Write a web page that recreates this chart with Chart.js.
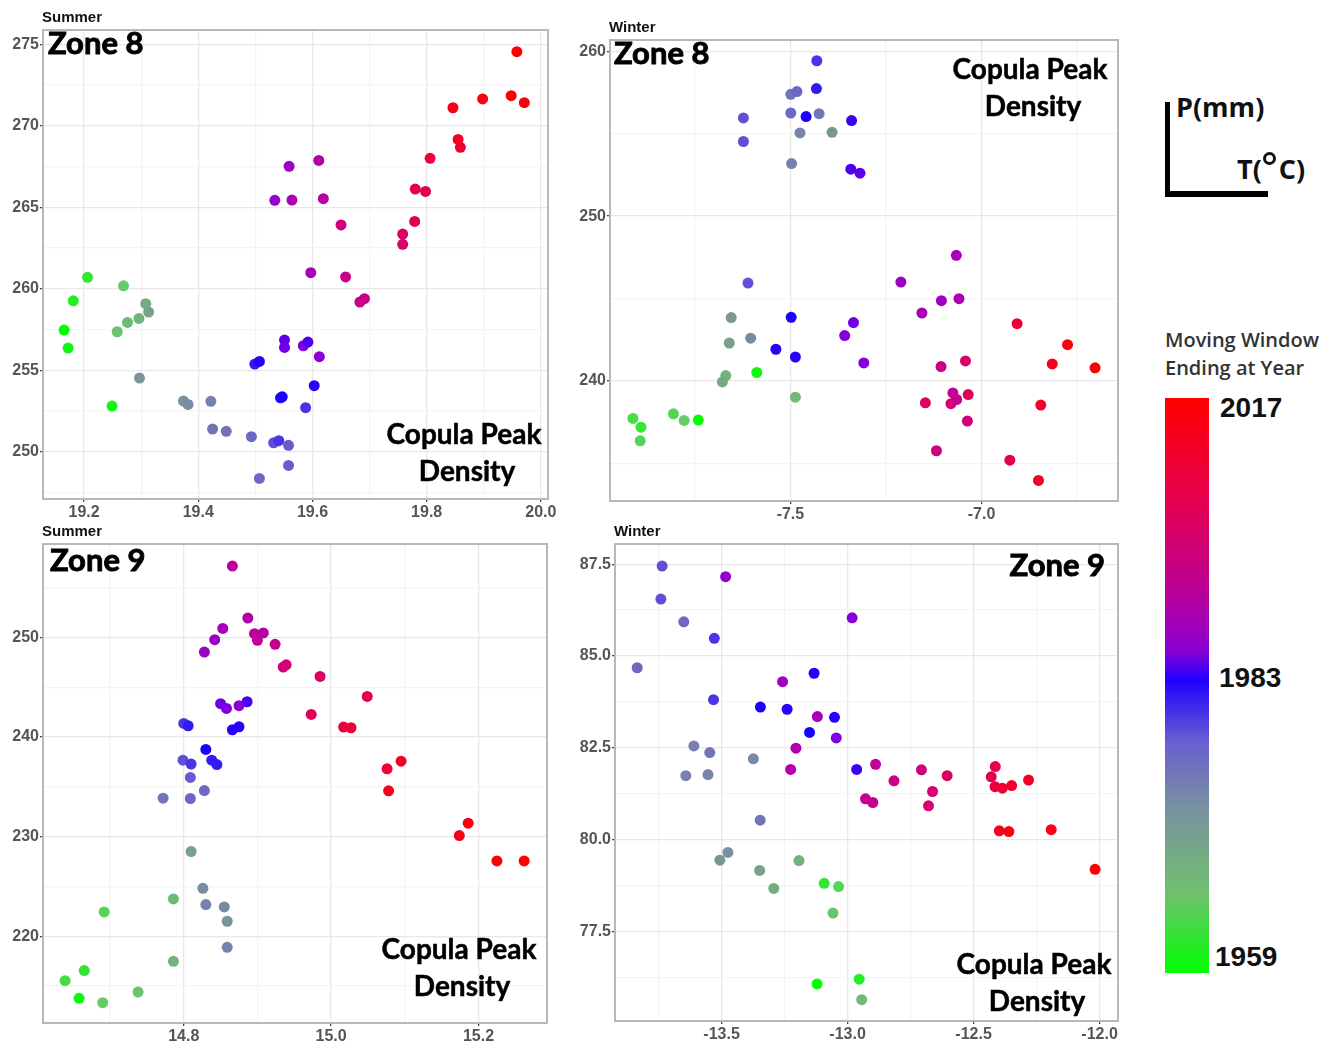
<!DOCTYPE html>
<html lang="en">
<head>
<meta charset="UTF-8">
<title>Copula Peak Density - Zones 8 and 9</title>
<script src="https://cdn.jsdelivr.net/npm/chart.js"></script>
<style>
  body { margin: 0; background: #fff; width: 1339px; height: 1043px; position: relative; overflow: hidden; font-family: "Liberation Sans", Arial, sans-serif; }
  canvas.panel { position: absolute; }
  .axis-v { position: absolute; left: 1165px; top: 102px; width: 5px; height: 95px; background: #000; }
  .axis-h { position: absolute; left: 1165px; top: 191px; width: 103px; height: 6px; background: #000; }
  .lbl { position: absolute; white-space: nowrap; color: #111; font-weight: bold; }
  .key { font-family: "Open Sans"; font-weight: 700; font-size: 27px; color: #111; }
  .bar { position: absolute; left: 1165px; top: 398px; width: 44px; height: 575px;
         background: linear-gradient(to top, #00ff00 0%, #70c070 14%, #7890a0 29%, #6a60d0 40%, #2000ff 51%,
                     #8800d0 56%, #a800b0 62%, #c80080 71%, #e80048 84%, #ff0000 100%); }
</style>
</head>
<body>
<canvas id="c1" class="panel" width="560" height="525" style="left:0;top:0"></canvas>
<canvas id="c2" class="panel" width="560" height="515" style="left:565px;top:10px"></canvas>
<canvas id="c3" class="panel" width="560" height="528" style="left:0;top:515px"></canvas>
<canvas id="c4" class="panel" width="570" height="528" style="left:560px;top:515px"></canvas>

<!-- axis key + colour bar -->
<div class="axis-v"></div>
<div class="axis-h"></div>
<div class="lbl key" style="left:1176px;top:88px;">P(mm)</div>
<div class="lbl key" style="left:1237px;top:150px;">T(<span style="display:inline-block;width:7px;height:7px;border:3px solid #111;border-radius:50%;position:relative;top:-14px;margin:0 3px 0 1px;"></span>C)</div>
<div class="lbl" style="left:1165px;top:326px;font-family:'Open Sans';font-weight:600;font-size:20px;color:#333;line-height:28px;">Moving Window<br>Ending at Year</div>
<div class="bar"></div>
<div class="lbl" style="left:1220px;top:392px;font-size:28px;">2017</div>
<div class="lbl" style="left:1219px;top:662px;font-size:28px;">1983</div>
<div class="lbl" style="left:1215px;top:941px;font-size:28px;">1959</div>

<script>
// ---- data: T (x), P (y) and moving-window end year for each point ----
const summer8T = [19.958, 19.948, 19.971, 19.898, 19.846, 19.855, 19.859, 19.806, 19.780, 19.798, 19.779, 19.758, 19.758,
  19.650, 19.658, 19.683, 19.691, 19.597, 19.611, 19.559, 19.534, 19.564, 19.619, 19.551, 19.551, 19.584, 19.592, 19.612,
  19.499, 19.507, 19.603, 19.544, 19.547, 19.588, 19.422, 19.425, 19.449, 19.493, 19.532, 19.541, 19.558, 19.558, 19.507,
  19.374, 19.382, 19.297, 19.308, 19.313, 19.296, 19.276, 19.258, 19.269, 19.206, 19.181, 19.165, 19.172, 19.249];
const summer8P = [274.55, 271.85, 271.42, 271.65, 271.11, 269.17, 268.68, 268.01, 266.12, 265.98, 264.14, 263.36, 262.73,
  263.92, 260.73, 259.19, 259.40, 260.99, 267.88, 267.52, 265.43, 265.45, 265.53, 256.86, 256.41, 256.51, 256.74, 255.84,
  255.39, 255.55, 254.06, 253.32, 253.38, 252.71, 253.10, 251.40, 251.26, 250.93, 250.56, 250.69, 250.40, 249.17, 248.37,
  253.12, 252.91, 254.53, 259.09, 258.58, 258.19, 257.94, 257.37, 260.19, 260.71, 259.27, 257.47, 256.37, 252.81];
const summer8Year = [2017, 2016, 2015, 2014, 2013, 2012, 2011, 2010, 2009, 2008, 2007, 2006, 2005,
  2003, 2002, 2001, 2002, 1995, 1997, 1993, 1992, 1996, 1998, 1987, 1988, 1989, 1986, 1991,
  1982, 1984, 1984, 1983, 1983, 1981, 1976, 1977, 1977, 1978, 1980, 1981, 1979, 1979, 1978,
  1973, 1974, 1972, 1969, 1970, 1968, 1967, 1966, 1965, 1962, 1961, 1959, 1960, 1960];

const winter8T = [-7.431, -7.432, -7.499, -7.483, -7.499, -7.459, -7.425, -7.623, -7.623, -7.475, -7.391, -7.497,
  -7.340, -7.342, -7.318, -7.066, -7.211, -7.105, -7.059, -7.156, -7.611, -7.655, -7.660, -7.604, -7.498, -7.538, -7.487,
  -7.335, -7.358, -7.308, -7.588, -7.669, -7.678, -7.487, -7.912, -7.891, -7.893, -7.806, -7.778, -7.741,
  -7.106, -7.042, -7.075, -7.080, -7.065, -7.147, -7.035, -7.037, -7.118,
  -6.907, -6.775, -6.815, -6.703, -6.845, -6.926, -6.851];
const winter8P = [259.43, 257.74, 257.39, 257.56, 256.26, 256.04, 256.22, 255.96, 254.53, 255.05, 255.09, 253.19,
  255.80, 252.85, 252.61, 247.62, 246.00, 244.87, 244.99, 244.12, 245.94, 243.84, 242.30, 242.59, 243.86, 241.92, 241.45,
  243.54, 242.75, 241.09, 240.51, 240.32, 239.94, 239.01, 237.72, 237.19, 236.36, 238.00, 237.60, 237.62,
  240.87, 241.21, 239.27, 238.62, 238.87, 238.67, 239.17, 237.56, 235.76,
  243.47, 242.20, 241.03, 240.79, 238.53, 235.19, 233.96];
const winter8Year = [1981, 1982, 1977, 1978, 1978, 1983, 1977, 1980, 1980, 1975, 1972, 1976,
  1985, 1986, 1987, 1995, 1993, 1994, 1996, 1995, 1980, 1971, 1970, 1974, 1983, 1984, 1984,
  1988, 1989, 1990, 1960, 1968, 1969, 1967, 1963, 1962, 1964, 1964, 1965, 1959,
  2002, 2005, 2000, 2004, 2001, 2006, 2007, 2003, 2003,
  2010, 2015, 2013, 2016, 2011, 2009, 2012];

const summer9T = [14.866, 14.887, 14.853, 14.842, 14.828, 14.896, 14.908, 14.900, 14.924, 14.935, 14.939, 14.985,
  14.973, 15.049, 15.017, 15.027, 15.076, 15.095, 15.078, 15.174, 15.186, 15.225, 15.262,
  14.850, 14.858, 14.875, 14.886, 14.866, 14.875, 14.800, 14.806, 14.830, 14.799, 14.810, 14.838, 14.845,
  14.809, 14.828, 14.772, 14.809, 14.810, 14.826, 14.786, 14.830, 14.855, 14.859, 14.859, 14.786,
  14.692, 14.665, 14.639, 14.658, 14.690, 14.738];
const summer9P = [257.16, 251.94, 250.90, 249.77, 248.53, 250.37, 250.44, 249.70, 249.30, 247.02, 247.25, 246.08,
  242.27, 244.07, 241.00, 240.93, 236.81, 237.58, 234.60, 230.11, 231.35, 227.57, 227.57,
  243.34, 242.87, 243.14, 243.54, 240.73, 241.03, 241.36, 241.13, 238.75, 237.68, 237.28, 237.68, 237.24,
  235.94, 234.63, 233.86, 233.83, 228.51, 224.82, 223.75, 223.18, 222.95, 221.51, 218.90, 217.49,
  222.45, 216.56, 215.55, 213.78, 213.34, 214.41];
const summer9Year = [1999, 1997, 1995, 1993, 1993, 1999, 1998, 2000, 2001, 2003, 2004, 2006,
  2007, 2008, 2009, 2010, 2011, 2012, 2013, 2014, 2015, 2016, 2017,
  1988, 1989, 1991, 1986, 1984, 1984, 1981, 1982, 1983, 1980, 1981, 1982, 1982,
  1979, 1978, 1977, 1978, 1970, 1974, 1967, 1976, 1974, 1972, 1976, 1968,
  1964, 1962, 1963, 1960, 1965, 1966];

const winter9T = [-13.736, -13.741, -13.650, -13.529, -13.835, -13.484, -12.982, -13.133, -13.258, -13.532, -13.346,
  -13.240, -13.120, -13.052, -13.151, -13.045, -13.205, -13.226, -13.610, -13.547, -13.374, -13.642, -13.554, -12.964,
  -12.889, -12.929, -12.900, -12.816, -12.707, -12.663, -12.679, -12.605, -12.414, -12.430, -12.415, -12.386, -12.349,
  -12.282, -12.398, -12.360, -12.192, -12.018, -13.347, -13.507, -13.475, -13.349, -13.293, -13.193, -13.093, -13.036,
  -13.058, -13.121, -12.954, -12.944];
const winter9P = [87.45, 86.55, 85.93, 85.48, 84.68, 87.16, 86.04, 84.53, 84.30, 83.81, 83.61,
  83.55, 83.35, 83.33, 82.92, 82.77, 82.49, 81.91, 82.55, 82.37, 82.20, 81.74, 81.77, 81.91,
  82.05, 81.11, 81.01, 81.60, 81.90, 81.31, 80.92, 81.74, 81.99, 81.71, 81.44, 81.40, 81.47,
  81.62, 80.24, 80.22, 80.27, 79.19, 80.53, 79.44, 79.65, 79.16, 78.67, 79.43, 78.81, 78.72,
  78.00, 76.07, 76.20, 75.64];
const winter9Year = [1980, 1980, 1978, 1981, 1978, 1992, 1990, 1984, 1994, 1981, 1983,
  1984, 1995, 1984, 1983, 1989, 1996, 1997, 1976, 1977, 1974, 1976, 1975, 1985,
  2000, 2001, 2001, 2002, 2003, 2004, 2005, 2006, 2009, 2008, 2010, 2011, 2011,
  2012, 2013, 2014, 2015, 2017, 1977, 1972, 1973, 1970, 1969, 1968, 1962, 1964,
  1966, 1959, 1961, 1967];

// colour scale for the window end year
const scaleYears = [1959, 1965, 1971, 1976, 1980, 1983, 1989, 1995, 2001, 2007, 2012, 2017];
const scaleColors = ['#00ff00', '#66cc66', '#7a9a90', '#7880b0', '#6050d8', '#1a00ff',
  '#8000e0', '#a800b8', '#c80090', '#e00058', '#f50025', '#ff0000'];

function hexRgb(h) {
  return [parseInt(h.slice(1, 3), 16), parseInt(h.slice(3, 5), 16), parseInt(h.slice(5, 7), 16)];
}
function yearColor(yr) {
  let i = 0;
  while (i < scaleYears.length - 2 && yr > scaleYears[i + 1]) i++;
  const t = Math.min(1, Math.max(0, (yr - scaleYears[i]) / (scaleYears[i + 1] - scaleYears[i])));
  const a = hexRgb(scaleColors[i]), b = hexRgb(scaleColors[i + 1]);
  const c = a.map((v, k) => Math.round(v + (b[k] - v) * t));
  return `rgb(${c[0]},${c[1]},${c[2]})`;
}

function isMajor(v, major) {
  const r = v / major;
  return Math.abs(r - Math.round(r)) < 1e-6;
}

function axis(min, max, major, digits, size) {
  return {
    type: 'linear',
    min: min,
    max: max,
    afterFit: s => { if (s.isHorizontal()) s.height = size; else s.width = size; },
    ticks: {
      stepSize: major / 2,
      includeBounds: false,
      maxTicksLimit: 60,
      autoSkip: false,
      maxRotation: 0,
      padding: 1,
      color: '#555',
      font: { family: 'Liberation Sans', size: 16, weight: 'bold' },
      callback: v => isMajor(v, major) ? v.toFixed(digits) : ''
    },
    grid: {
      color: c => isMajor(c.tick.value, major) ? '#e8e8e8' : '#f4f4f4',
      lineWidth: 1.3,
      drawTicks: true,
      tickLength: 3,
      tickColor: c => isMajor(c.tick.value, major) ? '#444' : 'rgba(0,0,0,0)'
    },
    border: { display: false }
  };
}

// panel frame and in-plot labels
const panelText = {
  id: 'panelText',
  afterDraw(chart, args, o) {
    const { ctx, chartArea: a } = chart;
    ctx.save();
    ctx.strokeStyle = '#b8b8b8';
    ctx.lineWidth = 2;
    ctx.strokeRect(a.left, a.top, a.right - a.left, a.bottom - a.top);

    ctx.fillStyle = '#111';
    ctx.font = 'bold 15px "Liberation Sans"';
    ctx.textAlign = 'left';
    ctx.textBaseline = 'bottom';
    ctx.fillText(o.season, a.left - 1, a.top - 5);

    ctx.fillStyle = '#000';
    ctx.strokeStyle = '#000';
    ctx.lineWidth = 0.9;
    ctx.textBaseline = 'middle';
    ctx.font = 'bold 31px Lato';
    let zx = a.left + o.zoneX;
    ctx.textAlign = 'left';
    if (o.zoneAlign === 'right') {
      ctx.textAlign = 'right';
      zx = a.right - o.zoneX;
    }
    ctx.fillText(o.zone, zx, a.top + o.zoneY);
    ctx.strokeText(o.zone, zx, a.top + o.zoneY);

    ctx.textAlign = 'center';
    ctx.font = 'bold 28px Lato';
    ctx.lineWidth = 0.5;
    const cx = a.right - o.copX;
    ctx.fillText('Copula Peak', cx, a.top + o.copY);
    ctx.strokeText('Copula Peak', cx, a.top + o.copY);
    ctx.fillText('Density', cx + 3, a.top + o.copY + 37);
    ctx.strokeText('Density', cx + 3, a.top + o.copY + 37);
    ctx.restore();
  }
};

function makePanel(id, T, P, years, xr, yr, pad, text) {
  new Chart(document.getElementById(id), {
    type: 'scatter',
    data: {
      datasets: [{
        data: T.map((t, i) => ({ x: t, y: P[i] })),
        pointBackgroundColor: years.map(yearColor),
        pointBorderWidth: 0,
        pointRadius: 5.5,
        pointHoverRadius: 5.5
      }]
    },
    options: {
      responsive: false,
      animation: false,
      events: [],
      layout: { padding: { top: pad.top, right: pad.right, left: 0, bottom: 0 } },
      plugins: { legend: { display: false }, tooltip: { enabled: false }, panelText: text },
      scales: {
        x: axis(xr[0], xr[1], xr[2], xr[3], pad.xh),
        y: axis(yr[0], yr[1], yr[2], yr[3], pad.yw)
      }
    },
    plugins: [panelText]
  });
}

makePanel('c1', summer8T, summer8P, summer8Year,
  [19.128, 20.0125, 0.2, 1], [247.11, 275.88, 5, 0],
  { top: 30, right: 12, xh: 26, yw: 43 },
  { season: 'Summer', zone: 'Zone 8', zoneX: 5, zoneY: 14, copX: 84, copY: 405 });

makePanel('c2', winter8T, winter8P, winter8Year,
  [-7.972, -6.643, 0.5, 1], [232.71, 260.69, 10, 0],
  { top: 30, right: 7, xh: 24, yw: 45 },
  { season: 'Winter', zone: 'Zone 8', zoneX: 4, zoneY: 14, copX: 88, copY: 30 });

makePanel('c3', summer9T, summer9P, summer9Year,
  [14.609, 15.293, 0.2, 1], [211.30, 259.37, 10, 0],
  { top: 29, right: 13, xh: 20, yw: 43 },
  { season: 'Summer', zone: 'Zone 9', zoneX: 7, zoneY: 17, copX: 88, copY: 406 });

makePanel('c4', winter9T, winter9P, winter9Year,
  [-13.923, -11.927, 0.5, 1], [75.06, 88.05, 2.5, 1],
  { top: 29, right: 12, xh: 22, yw: 55 },
  { season: 'Winter', zone: 'Zone 9', zoneAlign: 'right', zoneX: 13, zoneY: 22, copX: 84, copY: 421 });
</script>
</body>
</html>
